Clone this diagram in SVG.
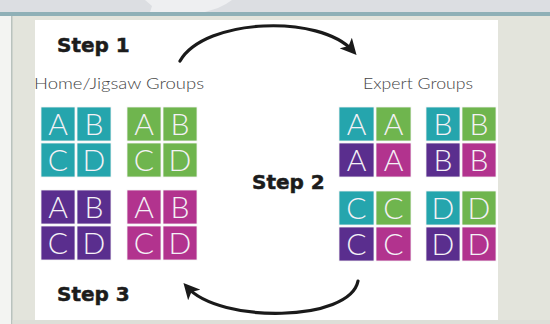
<svg xmlns="http://www.w3.org/2000/svg" width="550" height="324" viewBox="0 0 550 324">
<defs>
<style>
.c{stroke:#f2f2f2;stroke-width:0.8}
.t{fill:#25a5ad}.g{fill:#6fb54e}.p{fill:#5a2e8e}.m{fill:#b2338e}
.l{font-family:Lato,"Liberation Sans",sans-serif;font-weight:300;font-size:30px;fill:#f4f1f6;text-anchor:middle}
.step{font-family:"DejaVu Sans",sans-serif;font-weight:bold;font-size:20px;fill:#1c1c1c;stroke:#1c1c1c;stroke-width:0.5}
.lab{font-family:Lato,"Liberation Sans",sans-serif;font-weight:300;font-size:16px;fill:#444444}
.arc{fill:none;stroke:#1a1a1a;stroke-width:3.2;stroke-linecap:round}
</style>
<marker id="ah" viewBox="0 0 12 12" refX="8" refY="6" markerWidth="5" markerHeight="5" orient="auto" markerUnits="strokeWidth">
<path d="M0,0 L12,6 L0,12 L3,6 Z" fill="#1a1a1a"/>
</marker>
</defs>
<!-- background -->
<rect x="0" y="0" width="550" height="324" fill="#e3e4dc"/>
<rect x="0" y="0" width="550" height="12" fill="#dcdee2"/>
<path d="M145,0 L232,0 L226,4 L218,8 L205,12 L150,12 L152,6 Z" fill="#eeeff1"/>
<rect x="0" y="12" width="550" height="4" fill="#8fb0b7"/>
<rect x="0" y="16" width="11" height="308" fill="#f3f4f2"/>
<rect x="11" y="16" width="1.5" height="308" fill="#b9c2be"/>
<rect x="35" y="20" width="463" height="300" fill="#ffffff"/>
<rect x="12.5" y="320" width="537.5" height="4" fill="#dddfd8"/>

<g id="home-teal">
<rect class="t c" x="41" y="107" width="34" height="34"/><rect class="t c" x="77" y="107" width="34" height="34"/>
<rect class="t c" x="41" y="143" width="34" height="34"/><rect class="t c" x="77" y="143" width="34" height="34"/>
<text class="l" x="58" y="135">A</text><text class="l" x="94" y="135">B</text>
<text class="l" x="58" y="171">C</text><text class="l" x="94" y="171">D</text>
</g>
<g id="home-green">
<rect class="g c" x="127" y="107" width="34" height="34"/><rect class="g c" x="163" y="107" width="34" height="34"/>
<rect class="g c" x="127" y="143" width="34" height="34"/><rect class="g c" x="163" y="143" width="34" height="34"/>
<text class="l" x="144" y="135">A</text><text class="l" x="180" y="135">B</text>
<text class="l" x="144" y="171">C</text><text class="l" x="180" y="171">D</text>
</g>
<g id="home-purple">
<rect class="p c" x="41" y="190" width="34" height="34"/><rect class="p c" x="77" y="190" width="34" height="34"/>
<rect class="p c" x="41" y="226" width="34" height="34"/><rect class="p c" x="77" y="226" width="34" height="34"/>
<text class="l" x="58" y="218">A</text><text class="l" x="94" y="218">B</text>
<text class="l" x="58" y="254">C</text><text class="l" x="94" y="254">D</text>
</g>
<g id="home-magenta">
<rect class="m c" x="127" y="190" width="34" height="34"/><rect class="m c" x="163" y="190" width="34" height="34"/>
<rect class="m c" x="127" y="226" width="34" height="34"/><rect class="m c" x="163" y="226" width="34" height="34"/>
<text class="l" x="144" y="218">A</text><text class="l" x="180" y="218">B</text>
<text class="l" x="144" y="254">C</text><text class="l" x="180" y="254">D</text>
</g>

<g id="expert-a">
<rect class="t c" x="339" y="107" width="35" height="34"/><rect class="g c" x="376" y="107" width="35" height="34"/>
<rect class="p c" x="339" y="143" width="35" height="34"/><rect class="m c" x="376" y="143" width="35" height="34"/>
<text class="l" x="356.5" y="135">A</text><text class="l" x="393.5" y="135">A</text>
<text class="l" x="356.5" y="171">A</text><text class="l" x="393.5" y="171">A</text>
</g>
<g id="expert-b">
<rect class="t c" x="426" y="107" width="34" height="34"/><rect class="g c" x="462" y="107" width="34" height="34"/>
<rect class="p c" x="426" y="143" width="34" height="34"/><rect class="m c" x="462" y="143" width="34" height="34"/>
<text class="l" x="443" y="135">B</text><text class="l" x="479" y="135">B</text>
<text class="l" x="443" y="171">B</text><text class="l" x="479" y="171">B</text>
</g>
<g id="expert-c">
<rect class="t c" x="339" y="191" width="35" height="34"/><rect class="g c" x="376" y="191" width="35" height="34"/>
<rect class="p c" x="339" y="227" width="35" height="34"/><rect class="m c" x="376" y="227" width="35" height="34"/>
<text class="l" x="356.5" y="219">C</text><text class="l" x="393.5" y="219">C</text>
<text class="l" x="356.5" y="255">C</text><text class="l" x="393.5" y="255">C</text>
</g>
<g id="expert-d">
<rect class="t c" x="426" y="191" width="34" height="34"/><rect class="g c" x="462" y="191" width="34" height="34"/>
<rect class="p c" x="426" y="227" width="34" height="34"/><rect class="m c" x="462" y="227" width="34" height="34"/>
<text class="l" x="443" y="219">D</text><text class="l" x="479" y="219">D</text>
<text class="l" x="443" y="255">D</text><text class="l" x="479" y="255">D</text>
</g>

<g id="labels">
<text class="step" x="57" y="52">Step 1</text>
<text class="step" x="252" y="189">Step 2</text>
<text class="step" x="57" y="301">Step 3</text>
<text class="lab" x="34" y="89" textLength="170" lengthAdjust="spacingAndGlyphs">Home/Jigsaw Groups</text>
<text class="lab" x="363" y="89" textLength="110" lengthAdjust="spacingAndGlyphs">Expert Groups</text>
</g>

<g id="connectors">
<path class="arc" d="M180,61 C205,18 320,14 353,51" marker-end="url(#ah)"/>
<path class="arc" d="M358,281 C350,322 220,324 187,287" marker-end="url(#ah)"/>
</g>
</svg>
